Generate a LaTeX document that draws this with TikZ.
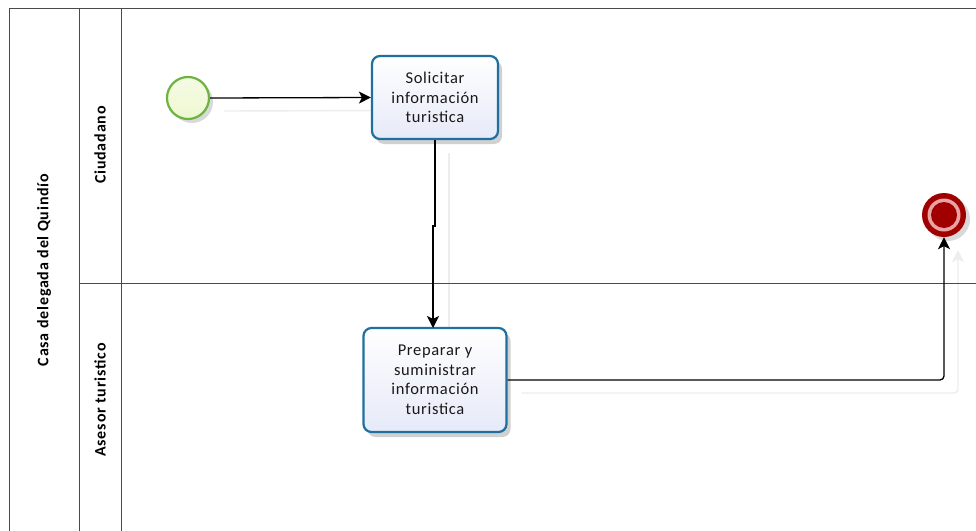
\documentclass[tikz,border=0pt]{standalone}
\usepackage{fontspec}
\setmainfont{Carlito}
\newfontfamily\taskfont[LetterSpace=4]{Carlito}
\newfontfamily\lanefont[LetterSpace=5]{Carlito}
\usetikzlibrary{arrows.meta,shadows,backgrounds}
\definecolor{poolline}{HTML}{4A4A4A}
\definecolor{taskline}{HTML}{1F6F9F}
\definecolor{taskfill}{HTML}{E6E9F8}
\definecolor{startline}{HTML}{6DB33F}
\definecolor{startfill}{HTML}{EEF8D2}
\definecolor{endred}{HTML}{A00000}
\definecolor{endring}{HTML}{E9A3A3}
\definecolor{flowshadow}{HTML}{EDEDED}
\tikzset{
  x=1pt, y=-1pt,
  laneline/.style={draw=poolline, line width=0.9pt},
  lanelabel/.style={font=\lanefont\bfseries\fontsize{16}{18}\selectfont, rotate=90, text=black},
  task/.style={draw=taskline, line width=2.2pt, rounded corners=8pt,
    top color=white, bottom color=taskfill, align=center,
    font=\taskfont\fontsize{16.5}{19.5}\selectfont, text=black!90, inner sep=0pt,
    drop shadow={shadow xshift=4pt, shadow yshift=-5pt, opacity=0.18, fill=black}},
  startevt/.style={circle, draw=startline, line width=2.2pt, minimum size=42pt,
    inner sep=0pt, top color=startfill!60!white, bottom color=startfill,
    drop shadow={shadow xshift=4pt, shadow yshift=-4pt, opacity=0.15, fill=black}},
  endevt/.style={circle, fill=endred, minimum size=44pt, inner sep=0pt,
    drop shadow={shadow xshift=4pt, shadow yshift=-4pt, opacity=0.15, fill=black}},
  flow/.style={draw=black, line width=1.3pt,
    -{Stealth[length=12pt, width=12pt, inset=3pt]}},
  flowshade/.style={draw=flowshadow, line width=1.4pt,
    -{Stealth[length=12pt, width=12pt, inset=3pt]}},
}
\begin{document}
\begin{tikzpicture}
\useasboundingbox (0,0) rectangle (976,530);

% pool and lane frame
\draw[laneline] (9,540) -- (9,8) -- (980,8);
\draw[laneline] (79,8) -- (79,540);
\draw[laneline] (121,8) -- (121,540);
\draw[laneline] (79,283) -- (980,283);

\node[lanelabel] (pool) at (44,270) {Casa delegada del Quindío};
\node[lanelabel] (lane1) at (100,145) {Ciudadano};
\node[lanelabel] (lane2) at (100,400) {Asesor turistico};

% flow objects
\node[startevt] (start) at (188,98) {};
\node[task, minimum width=126pt, minimum height=83pt] (t1) at (435,97.5)
  {Solicitar\\información\\turistica};
\node[task, minimum width=143pt, minimum height=104pt] (t2) at (435,380)
  {Preparar y\\suministrar\\información\\turistica};
\node[endevt] (end) at (944,215) {};
\fill[endring] (end.center) circle (16.5pt);
\fill[endred] (end.center) circle (13pt);

% faint connector shadows, behind everything else
\begin{pgfonlayer}{background}
  \fill[white] (0,0) rectangle (976,530);
  \begin{scope}[transform canvas={shift={(14pt,-13pt)}}]
    \draw[flowshade, -] (start.east) -- (t1.west);
    \draw[flowshade, -] (t1.south) -- (t2.north);
    \draw[flowshade, rounded corners=4pt] (t2.east) -| (end.south);
  \end{scope}
\end{pgfonlayer}

% sequence flows
\draw[flow] (start.east) -- (t1.west);
\draw[flow] (t1.south) -- (435,226) -- (433,226) -- (433,328);
\draw[flow, rounded corners=4pt] (t2.east) -| (end.south);
\end{tikzpicture}
\end{document}
